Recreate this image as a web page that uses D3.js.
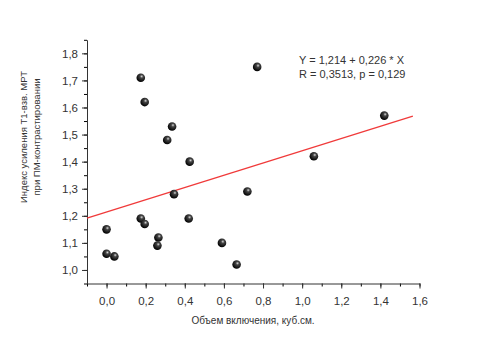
<!DOCTYPE html>
<html>
<head>
<meta charset="utf-8">
<script src="https://cdn.jsdelivr.net/npm/d3@7"></script>
<style>
  body { margin: 0; background: #fff; }
  text { font-family: "Liberation Sans", Arial, sans-serif; fill: #333; }
</style>
</head>
<body>
<div id="chart"></div>
<script>
"use strict";

// measured points (volume, enhancement index)
var volume = [0.0, 0.0, 0.04, 0.175, 0.195, 0.175, 0.195, 0.265, 0.26, 0.31,
              0.335, 0.345, 0.42, 0.425, 0.59, 0.665, 0.72, 0.77, 1.06, 1.42];
var index  = [1.15, 1.06, 1.05, 1.71, 1.62, 1.19, 1.17, 1.12, 1.09, 1.48,
              1.53, 1.28, 1.19, 1.40, 1.10, 1.02, 1.29, 1.75, 1.42, 1.57];

// fit Y = a + b * X, drawn over this x-range
var fitA = 1.214, fitB = 0.226;
var fitRange = [-0.1, 1.566];

var xTicks = [0, 0.2, 0.4, 0.6, 0.8, 1.0, 1.2, 1.4, 1.6];
var yTicks = [1.0, 1.1, 1.2, 1.3, 1.4, 1.5, 1.6, 1.7, 1.8];
var statLines = ["Y = 1,214 + 0,226 * X", "R = 0,3513, p = 0,129"];

var width = 487, height = 340;
var fmt = function(d) { return d3.format(".1f")(d).replace(".", ","); };

var x = d3.scaleLinear().domain([-0.1, 1.6]).range([87, 419.5]);
var y = d3.scaleLinear().domain([0.95, 1.85]).range([283.5, 39.8]);

var svg = d3.select("#chart").append("svg")
    .attr("width", width)
    .attr("height", height);

var grad = svg.append("defs").append("radialGradient")
    .attr("id", "ball").attr("cx", "0.6").attr("cy", "0.35").attr("r", "0.65");
grad.append("stop").attr("offset", "0%").attr("stop-color", "#d8d8d8");
grad.append("stop").attr("offset", "30%").attr("stop-color", "#444");
grad.append("stop").attr("offset", "100%").attr("stop-color", "#000");

// minor ticks
svg.append("g")
    .attr("transform", "translate(0," + y.range()[0] + ")")
    .call(d3.axisBottom(x).tickValues(d3.range(-0.1, 1.61, 0.1)).tickSize(3).tickFormat(""))
    .call(g => g.select(".domain").remove());
svg.append("g")
    .attr("transform", "translate(" + x.range()[0] + ",0)")
    .call(d3.axisLeft(y).tickValues(d3.range(0.95, 1.86, 0.05)).tickSize(3).tickFormat(""))
    .call(g => g.select(".domain").remove());

// major axes
var xAxis = svg.append("g")
    .attr("transform", "translate(0," + y.range()[0] + ")")
    .call(d3.axisBottom(x).tickValues(xTicks).tickSize(5).tickSizeOuter(0).tickPadding(8).tickFormat(fmt));
var yAxis = svg.append("g")
    .attr("transform", "translate(" + x.range()[0] + ",0)")
    .call(d3.axisLeft(y).tickValues(yTicks).tickSize(5).tickSizeOuter(0).tickPadding(4).tickFormat(fmt));

[xAxis, yAxis].forEach(function(g) {
  g.selectAll("path, line").attr("stroke", "#333");
  g.selectAll("text").style("font-size", "11.5px").attr("fill", "#333");
});

// regression line
svg.append("line")
    .attr("x1", x(fitRange[0])).attr("y1", y(fitA + fitB * fitRange[0]))
    .attr("x2", x(fitRange[1])).attr("y2", y(fitA + fitB * fitRange[1]))
    .attr("stroke", "#f03a3a")
    .attr("stroke-width", 1.3);

// points
svg.append("g").selectAll("circle")
    .data(volume)
  .enter().append("circle")
    .attr("cx", function(d) { return x(d); })
    .attr("cy", function(d, i) { return y(index[i]); })
    .attr("r", 4.3)
    .attr("fill", "url(#ball)");

// equation box
svg.append("g").selectAll("text")
    .data(statLines)
  .enter().append("text")
    .attr("x", 299)
    .attr("y", function(d, i) { return 64 + i * 13.5; })
    .style("font-size", "11px")
    .text(function(d) { return d; });

// axis titles
svg.append("text")
    .attr("x", 253).attr("y", 324)
    .attr("text-anchor", "middle")
    .style("font-size", "10px")
    .text("Объем включения, куб.см.");

var yTitle = svg.append("text")
    .attr("transform", "translate(27,137) rotate(-90)")
    .attr("text-anchor", "middle")
    .style("font-size", "9.5px");
yTitle.append("tspan").attr("x", 0).attr("y", 0).text("Индекс усиления Т1-взв. МРТ");
yTitle.append("tspan").attr("x", 0).attr("y", 13).text("при ПМ-контрастировании");
</script>
</body>
</html>
